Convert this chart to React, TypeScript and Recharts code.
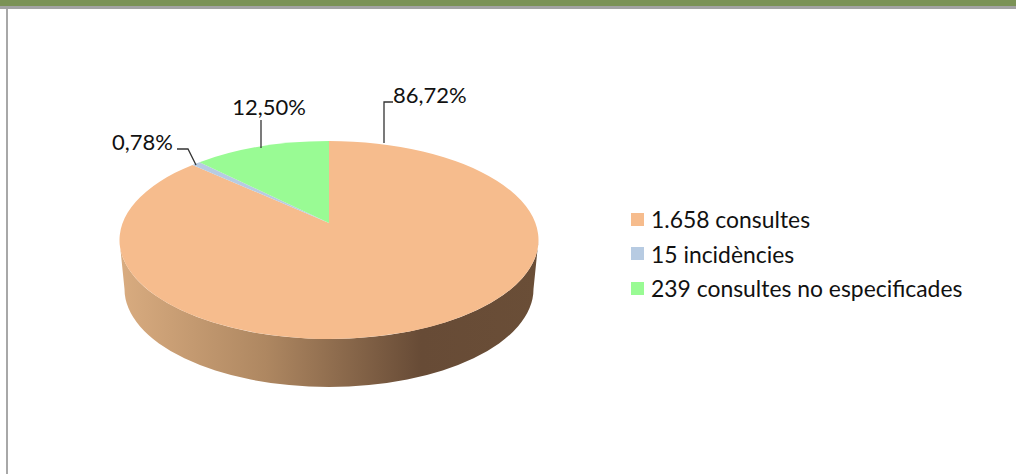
import React from "react";
import { PieChart, Pie, Legend } from "recharts";

const categories = ["1.658 consultes", "15 incidències", "239 consultes no especificades"];
const values = [1658, 15, 239];
const percentLabels = ["86,72%", "0,78%", "12,50%"];
const colors = ["#F6BC8D", "#B7CBE2", "#99FB94"];

const data = categories.map((name, i) => ({ name, value: values[i], fill: colors[i] }));

const FONT = "Lato, 'Open Sans', sans-serif";
const RX = 209.5; // elipse de la cara superior
const RY = 99;
const APEX_OFFSET = 17; // el vèrtex queda per sobre del centre de l'el·lipse
const TILT = 0.47;
const DEPTH = 49;

// Punt on el radi (angle en graus de Recharts) talla l'el·lipse
const rimPoint = (cx: number, cy: number, angle: number) => {
    const t = ((90 - angle) * Math.PI) / 180;
    const dx = Math.sin(t);
    const dy = -Math.cos(t) * TILT;
    const a = (dx * dx) / (RX * RX) + (dy * dy) / (RY * RY);
    const b = (2 * dy * -APEX_OFFSET) / (RY * RY);
    const c = (APEX_OFFSET * APEX_OFFSET) / (RY * RY) - 1;
    const s = (-b + Math.sqrt(b * b - 4 * a * c)) / (2 * a);
    return { x: cx + dx * s, y: cy + dy * s };
};

const EllipseSector = (props: any) => {
    const { cx, cy, startAngle, endAngle, fill } = props;
    const p0 = rimPoint(cx, cy, startAngle);
    const p1 = rimPoint(cx, cy, endAngle);
    const large = Math.abs(startAngle - endAngle) > 180 ? 1 : 0;
    const top = `M${cx},${cy} L${p0.x},${p0.y} A${RX},${RY} 0 ${large} 1 ${p1.x},${p1.y} Z`;
    const midY = cy + APEX_OFFSET;
    // La paret lateral només la dibuixa el primer sector, que ocupa tot el davant
    const wall =
        startAngle === 90 ? (
            <path
                d={`M${cx - RX},${midY} A${RX},${RY} 0 0 0 ${cx + RX},${midY} L${cx + RX - 5},${midY + DEPTH} A${RX - 5},${RY - 1} 0 0 1 ${cx - RX + 5},${midY + DEPTH} Z`}
                fill="url(#paret)"
            />
        ) : null;
    return (
        <g>
            {wall}
            <path d={top} fill={fill} />
        </g>
    );
};

const labelLayout = [
    { x: 393, y: 103, anchor: "start", line: "384,143 384,102 393,102" },
    { x: 173, y: 150, anchor: "end", line: "177,149 188,149 196,165" },
    { x: 269, y: 115, anchor: "middle", line: "261,120 261,148" },
];

const renderLabel = (props: any) => {
    const pos = labelLayout[props.index];
    return (
        <g>
            <polyline points={pos.line} fill="none" stroke="#333" strokeWidth={1.3} />
            <text x={pos.x} y={pos.y} textAnchor={pos.anchor} fontFamily={FONT} fontSize={22} fill="#111">
                {percentLabels[props.index]}
            </text>
        </g>
    );
};

const renderLegend = (props: any) => (
    <div style={{ fontFamily: FONT, fontSize: 22.9, color: "#111" }}>
        {props.payload.map((item: any) => (
            <div key={item.value} style={{ display: "flex", alignItems: "center", height: 34.5, whiteSpace: "nowrap" }}>
                <span style={{ width: 13, height: 13, background: item.color, marginRight: 7 }} />
                {item.value}
            </div>
        ))}
    </div>
);

export default function App() {
    return (
        <div style={{ position: "absolute", left: 0, top: 0, width: 1016, height: 474, background: "#fff", overflow: "hidden" }}>
            {/* Capçalera i vora de la diapositiva */}
            <div style={{ position: "absolute", left: 0, top: 0, width: 1016, height: 6, background: "#7B9256" }} />
            <div style={{ position: "absolute", left: 0, top: 6, width: 1016, height: 3, background: "#A3A3A3" }} />
            <div style={{ position: "absolute", left: 6, top: 9, width: 1.5, height: 465, background: "#A8A8A8" }} />
            <div style={{ position: "absolute", left: 0, top: 0 }}>
                <PieChart width={1016} height={474} margin={{ top: 0, right: 0, bottom: 0, left: 0 }}>
                    <defs>
                        <linearGradient id="paret" x1="0" y1="0" x2="1" y2="0">
                            <stop offset="0%" stopColor="#D9AC80" />
                            <stop offset="35%" stopColor="#AE8761" />
                            <stop offset="72%" stopColor="#674B36" />
                            <stop offset="100%" stopColor="#6A4E37" />
                        </linearGradient>
                    </defs>
                    <Pie
                        data={data}
                        dataKey="value"
                        nameKey="name"
                        cx={329}
                        cy={223}
                        outerRadius={210}
                        startAngle={90}
                        endAngle={-270}
                        stroke="none"
                        shape={EllipseSector}
                        label={renderLabel}
                        labelLine={false}
                        isAnimationActive={false}
                    />
                    <Legend
                        layout="vertical"
                        align="right"
                        verticalAlign="top"
                        content={renderLegend}
                        wrapperStyle={{ left: 631, right: "auto", top: 202, width: 360 }}
                    />
                </PieChart>
            </div>
        </div>
    );
}
